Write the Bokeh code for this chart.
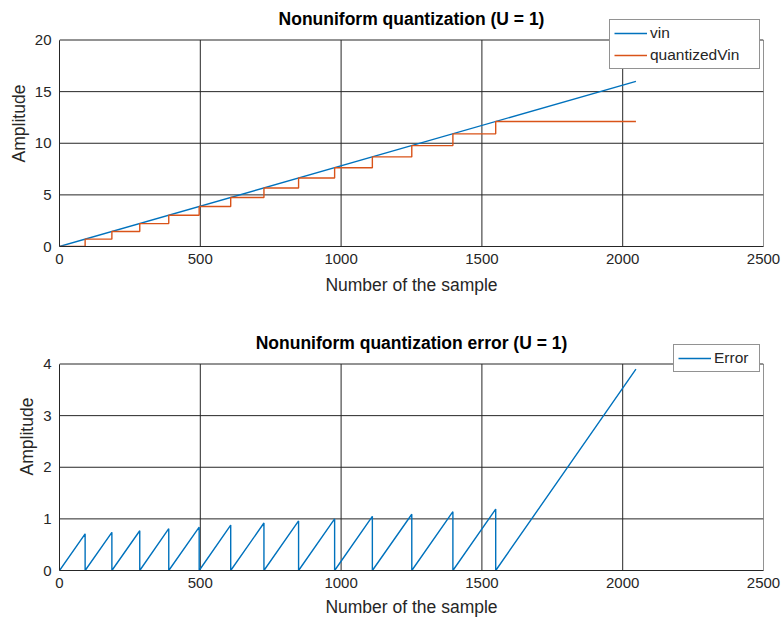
from bokeh.plotting import figure
from bokeh.layouts import column
from bokeh.models import Legend, LegendItem, FixedTicker, Range1d, Label
from bokeh.embed import file_html
from bokeh.resources import INLINE

# Input ramp: sample index vs amplitude (straight line end points)
sample_x = [0, 2047]
vin_y = [0, 16]

# Quantizer output: each level holds from its start sample until the next one
step_start = [0, 91, 186, 285, 388, 496, 608, 726, 849, 977, 1111, 1251, 1397, 1549]
step_level = [0, 0.71, 1.45, 2.22, 3.03, 3.87, 4.75, 5.67, 6.63, 7.63, 8.68, 9.77, 10.91, 12.10]

# Quantization error reached at the end of each level's span
error_peak = [0.71, 0.74, 0.77, 0.81, 0.84, 0.88, 0.92, 0.96, 1.00, 1.05, 1.09, 1.14, 1.19, 3.90]

x_ticks = [0, 500, 1000, 1500, 2000, 2500]
top_y_ticks = [0, 5, 10, 15, 20]
bottom_y_ticks = [0, 1, 2, 3, 4]

BLUE = "#0072BD"
ORANGE = "#D95319"
INK = "#262626"
FONT = "Liberation Sans"
AXES_PX = 206.5  # drawn height of each axes box


def make_axes(title, y_ticks, frame_px, border_bottom, title_gap_px,
              tick_standoff, label_standoff):
    """Axes box spans y_ticks; the frame reaches higher so the legend and
    title can sit above the box."""
    y_top = y_ticks[-1]
    y_max = frame_px * y_top / AXES_PX
    p = figure(
        frame_width=704, frame_height=frame_px,
        x_range=Range1d(0, 2500), y_range=Range1d(0, y_max),
        output_backend="svg", toolbar_location=None,
        min_border_left=59, min_border_right=18,
        min_border_top=0, min_border_bottom=border_bottom,
    )
    p.outline_line_color = None
    p.grid.visible = False

    # grid lines that also form the box
    p.segment(x0=x_ticks, y0=[0] * len(x_ticks), x1=x_ticks, y1=[y_top] * len(x_ticks),
              line_color=INK, line_width=1, level="underlay")
    p.segment(x0=[0] * len(y_ticks), y0=y_ticks, x1=[2500] * len(y_ticks), y1=y_ticks,
              line_color=INK, line_width=1, level="underlay")

    p.xaxis.ticker = FixedTicker(ticks=x_ticks)
    p.yaxis.ticker = FixedTicker(ticks=y_ticks)
    p.yaxis.bounds = (0, y_top)
    for ax in (p.xaxis[0], p.yaxis[0]):
        ax.axis_line_color = INK
        ax.major_tick_line_color = None
        ax.minor_tick_line_color = None
        ax.major_tick_in = 0
        ax.major_tick_out = 0
        ax.major_label_text_font = FONT
        ax.major_label_text_font_size = "15px"
        ax.major_label_text_color = INK
        ax.axis_label_text_font = FONT
        ax.axis_label_text_font_size = "17.5px"
        ax.axis_label_text_font_style = "normal"
        ax.axis_label_text_color = INK
    p.xaxis.major_label_standoff = tick_standoff
    p.yaxis.major_label_standoff = 8
    p.xaxis.axis_label = "Number of the sample"
    p.yaxis.axis_label = "Amplitude"
    p.xaxis.axis_label_standoff = label_standoff
    p.yaxis.axis_label_standoff = 3

    p.add_layout(Label(
        x=1250, y=y_top + title_gap_px * y_top / AXES_PX, text=title,
        text_align="center", text_baseline="middle",
        text_font=FONT, text_font_size="17.5px", text_font_style="bold",
        text_color="#000000",
    ))
    return p


def make_legend(items, location, label_width):
    return Legend(
        items=items, location=location,
        label_text_font=FONT, label_text_font_size="15.5px", label_text_color=INK,
        glyph_width=33, glyph_height=18, label_height=18, label_width=label_width,
        label_standoff=3, padding=4, spacing=4, margin=0,
        border_line_color=INK, border_line_width=1,
        background_fill_color="white", background_fill_alpha=1,
    )


# Upper panel: ramp and its quantized version
top = make_axes("Nonuniform quantization (U = 1)", top_y_ticks, 246, 56, 21.5, 7, 8)
r_vin = top.line(sample_x, vin_y, line_color=BLUE, line_width=1.4)
r_q = top.step(step_start + [sample_x[-1]], step_level + [step_level[-1]],
               mode="after", line_color=ORANGE, line_width=1.4)
top.add_layout(make_legend(
    [LegendItem(label="vin", renderers=[r_vin]),
     LegendItem(label="quantizedVin", renderers=[r_q])],
    (550, 177), 105))

# Lower panel: sawtooth error, rising from zero at each level start
err_x = []
err_y = []
ends = step_start[1:] + [sample_x[-1]]
for start, end, peak in zip(step_start, ends, error_peak):
    err_x += [start, end]
    err_y += [0, peak]

bottom = make_axes("Nonuniform quantization error (U = 1)", bottom_y_ticks, 268, 48, 21, 7, 6)
r_err = bottom.line(err_x, err_y, line_color=BLUE, line_width=1.4)
bottom.add_layout(make_legend(
    [LegendItem(label="Error", renderers=[r_err])],
    (614, 198), 41))

layout = column(top, bottom, spacing=0)

with open("out.html", "w") as f:
    f.write(file_html(layout, INLINE))
